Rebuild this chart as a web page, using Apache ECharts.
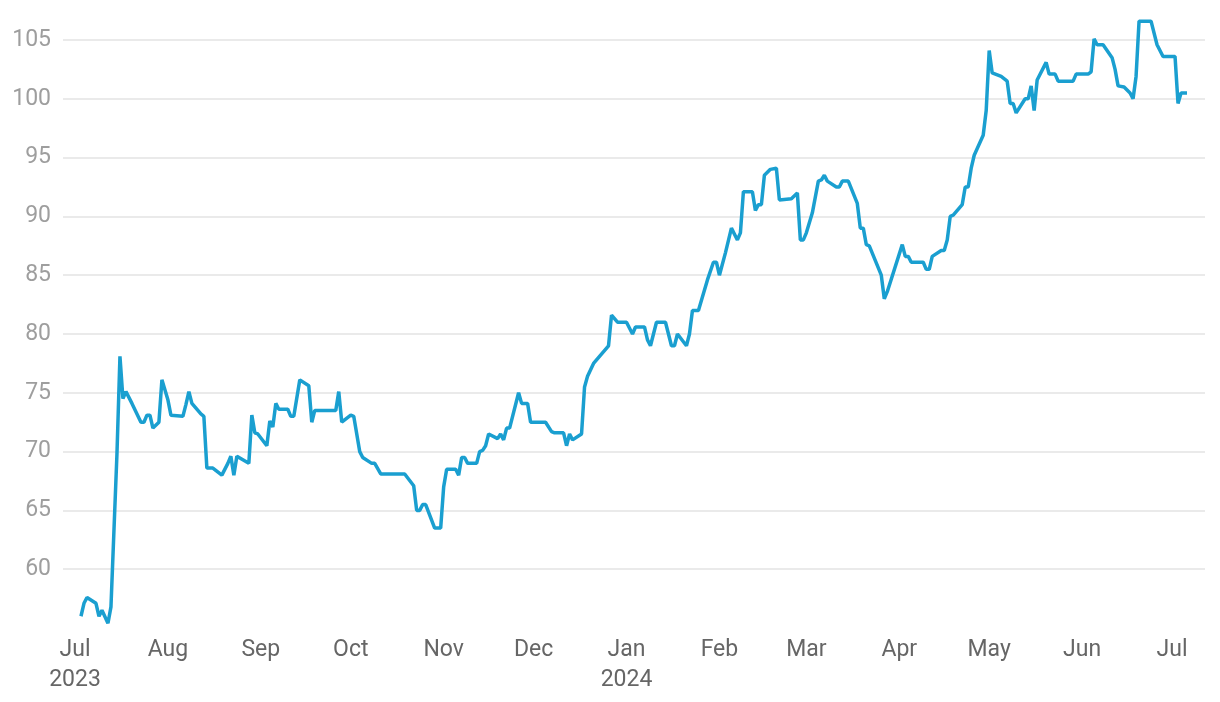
<!DOCTYPE html>
<html>
<head>
<meta charset="utf-8">
<script src="https://cdn.jsdelivr.net/npm/echarts@6/dist/echarts.min.js"></script>
<style>
html,body{margin:0;padding:0;background:#fff;}
#chart{width:1220px;height:702px;}
</style>
</head>
<body>
<div id="chart"></div>
<script>
const dates = [
'2023-07-03','2023-07-04','2023-07-05','2023-07-08','2023-07-09','2023-07-10','2023-07-12','2023-07-13','2023-07-15','2023-07-16',
'2023-07-17','2023-07-18','2023-07-20','2023-07-23','2023-07-24','2023-07-25','2023-07-26','2023-07-27','2023-07-29','2023-07-30',
'2023-08-01','2023-08-02','2023-08-06','2023-08-07','2023-08-08','2023-08-09','2023-08-12','2023-08-13','2023-08-14','2023-08-16',
'2023-08-19','2023-08-21','2023-08-22','2023-08-23','2023-08-24','2023-08-28','2023-08-29','2023-08-30','2023-08-31','2023-09-03',
'2023-09-04','2023-09-05','2023-09-06','2023-09-07','2023-09-10','2023-09-11','2023-09-12','2023-09-14','2023-09-17','2023-09-18',
'2023-09-19','2023-09-26','2023-09-27','2023-09-28','2023-10-01','2023-10-02','2023-10-04','2023-10-05','2023-10-08','2023-10-09',
'2023-10-11','2023-10-19','2023-10-22','2023-10-23','2023-10-24','2023-10-25','2023-10-26','2023-10-29','2023-10-31','2023-11-01',
'2023-11-02','2023-11-05','2023-11-06','2023-11-07','2023-11-08','2023-11-09','2023-11-12','2023-11-13','2023-11-14','2023-11-15',
'2023-11-16','2023-11-19','2023-11-20','2023-11-21','2023-11-22','2023-11-23','2023-11-26','2023-11-27','2023-11-29','2023-11-30',
'2023-12-05','2023-12-07','2023-12-08','2023-12-11','2023-12-12','2023-12-13','2023-12-14','2023-12-17','2023-12-18','2023-12-19',
'2023-12-21','2023-12-23','2023-12-26','2023-12-27','2023-12-29','2024-01-01','2024-01-03','2024-01-04','2024-01-07','2024-01-08',
'2024-01-09','2024-01-11','2024-01-14','2024-01-16','2024-01-17','2024-01-18','2024-01-21','2024-01-22','2024-01-23','2024-01-25',
'2024-01-28','2024-01-30','2024-01-31','2024-02-01','2024-02-03','2024-02-05','2024-02-07','2024-02-08','2024-02-09','2024-02-12',
'2024-02-13','2024-02-14','2024-02-15','2024-02-16','2024-02-18','2024-02-20','2024-02-21','2024-02-25','2024-02-27','2024-02-28',
'2024-02-29','2024-03-01','2024-03-03','2024-03-05','2024-03-06','2024-03-07','2024-03-08','2024-03-11','2024-03-12','2024-03-13',
'2024-03-15','2024-03-18','2024-03-19','2024-03-20','2024-03-21','2024-03-22','2024-03-26','2024-03-27','2024-03-28','2024-04-02',
'2024-04-03','2024-04-04','2024-04-05','2024-04-09','2024-04-10','2024-04-11','2024-04-12','2024-04-15','2024-04-16','2024-04-17',
'2024-04-18','2024-04-19','2024-04-22','2024-04-23','2024-04-24','2024-04-25','2024-04-26','2024-04-29','2024-04-30','2024-05-01',
'2024-05-02','2024-05-05','2024-05-07','2024-05-08','2024-05-09','2024-05-10','2024-05-13','2024-05-14','2024-05-15','2024-05-16',
'2024-05-17','2024-05-20','2024-05-21','2024-05-23','2024-05-24','2024-05-29','2024-05-30','2024-06-03','2024-06-04','2024-06-05',
'2024-06-06','2024-06-08','2024-06-11','2024-06-12','2024-06-13','2024-06-15','2024-06-17','2024-06-18','2024-06-19','2024-06-20',
'2024-06-24','2024-06-26','2024-06-28','2024-07-02','2024-07-03','2024-07-04','2024-07-06'
];
const values = [
56.0,57.1,57.6,57.1,56.0,56.5,55.4,56.8,69.8,78.1,
74.5,75.1,74.1,72.5,72.5,73.1,73.1,72.0,72.5,76.1,
74.4,73.1,73.0,74.0,75.1,74.1,73.2,73.0,68.6,68.6,
68.0,69.0,69.6,68.0,69.6,69.0,73.1,71.6,71.5,70.5,
72.6,72.1,74.1,73.6,73.6,73.0,73.0,76.1,75.6,72.5,
73.5,73.5,75.1,72.5,73.1,73.0,70.0,69.5,69.0,69.0,
68.1,68.1,67.1,65.0,65.0,65.5,65.5,63.5,63.5,67.0,
68.5,68.5,68.0,69.5,69.5,69.0,69.0,70.0,70.1,70.5,
71.5,71.1,71.5,71.0,72.0,72.0,75.0,74.1,74.1,72.5,
72.5,71.7,71.6,71.6,70.5,71.5,71.0,71.5,75.5,76.4,
77.5,78.1,79.0,81.6,81.0,81.0,80.0,80.6,80.6,79.5,
79.0,81.0,81.0,79.0,79.0,80.0,79.0,80.0,82.0,82.0,
84.6,86.1,86.1,85.0,86.9,89.0,88.0,88.6,92.1,92.1,
90.5,91.0,91.0,93.5,94.0,94.1,91.4,91.5,92.0,88.0,
88.0,88.6,90.3,93.0,93.1,93.5,93.0,92.5,92.5,93.0,
93.0,91.1,89.0,89.0,87.6,87.5,85.0,83.0,83.6,87.6,
86.6,86.6,86.1,86.1,85.5,85.5,86.6,87.1,87.1,88.0,
90.0,90.1,91.0,92.5,92.5,94.1,95.2,96.9,99.0,104.1,
102.2,101.9,101.5,99.6,99.6,98.8,100.0,100.0,101.1,99.0,
101.6,103.1,102.1,102.1,101.5,101.5,102.1,102.1,102.3,105.1,
104.6,104.6,103.5,102.5,101.1,101.0,100.5,100.0,101.9,106.6,
106.6,104.6,103.6,103.6,99.6,100.5,100.5
];
const monthTicks = ['2023-07-01','2023-08-01','2023-09-01','2023-10-01','2023-11-01','2023-12-01',
'2024-01-01','2024-02-01','2024-03-01','2024-04-01','2024-05-01','2024-06-01','2024-07-01'];
const monthNames = ['Jan','Feb','Mar','Apr','May','Jun','Jul','Aug','Sep','Oct','Nov','Dec'];
const yTicks = [60,65,70,75,80,85,90,95,100,105];

function ts(s){ const p=s.split('-'); return Date.UTC(+p[0], +p[1]-1, +p[2]); }
const seriesData = dates.map((d,i)=>[ts(d), values[i]]);
const tickValues = monthTicks.map(ts);
const firstTick = tickValues[0];

const chart = echarts.init(document.getElementById('chart'), null, {renderer:'canvas'});
chart.setOption({
  animation:false,
  backgroundColor:'#ffffff',
  grid:{left:63, right:15, top:40, bottom:74, containLabel:false},
  xAxis:{
    type:'value',
    scale:true,
    min: ts('2023-06-27'),
    max: ts('2024-07-12'),
    axisLine:{show:false},
    axisTick:{show:false},
    splitLine:{show:false},
    axisLabel:{
      customValues: tickValues,
      color:'#666666',
      fontFamily:'Roboto',
      fontSize:23,
      lineHeight:30,
      margin:7,
      formatter:function(v){
        const d=new Date(v);
        const m=d.getUTCMonth();
        let s=monthNames[m];
        if(m===0 || v===firstTick) s += '\n' + d.getUTCFullYear();
        return s;
      }
    }
  },
  yAxis:{
    type:'value',
    min:55, max:105, interval:5,
    axisLine:{show:false},
    axisTick:{show:false},
    axisLabel:{
      customValues: yTicks,
      color:'#9e9e9e',
      fontFamily:'Roboto',
      fontSize:23,
      margin:12
    },
    splitLine:{show:true, showMinLine:false, lineStyle:{color:'#e3e3e3', width:1.5}}
  },
  series:[{
    type:'line',
    data: seriesData,
    showSymbol:false,
    clip:false,
    lineStyle:{color:'#1a9fd0', width:3.5},
    itemStyle:{color:'#1a9fd0'}
  }]
});
</script>
</body>
</html>
